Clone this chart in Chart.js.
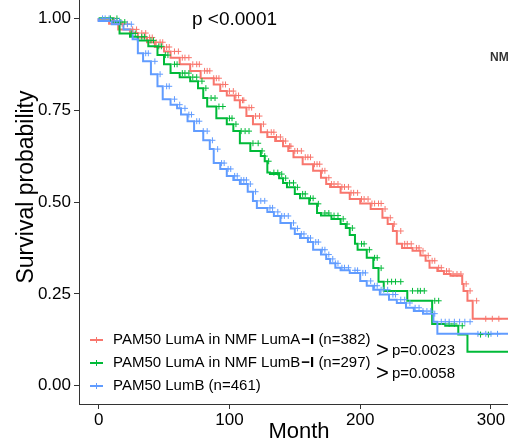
<!DOCTYPE html>
<html><head><meta charset="utf-8">
<script src="https://cdn.jsdelivr.net/npm/chart.js@4"></script>
<style>html,body{margin:0;padding:0;background:#fff;}#wrap{width:508px;height:445px;position:relative;}</style>
</head><body><div id="wrap"><canvas id="c"></canvas></div>
<script>
// ---- data ----
const seriesNames = ["PAM50 LumA in NMF LumA", "PAM50 LumA in NMF LumB", "PAM50 LumB"];
const seriesN = ["(n=382)", "(n=297)", "(n=461)"];
const seriesColors = ["#F8766D", "#00BA38", "#619CFF"];
const xTicks = [0, 100, 200, 300];
const yTicks = [0, 0.25, 0.5, 0.75, 1.0];
const pOverall = "p <0.0001";
const pPairs = ["p=0.0023", "p=0.0058"];

const redTime = [0,8,15,24,30,37,43,50,55,62,70,78,88,93,98,104,108,113,118,124,129,135,141,145,149,156,164,170,174,177,185,192,200,208,217,221,225,228,232,240,246,250,253,259,264,269,278,279,282,286,292,313];
const redSurv = [1.000,0.995,0.985,0.970,0.960,0.948,0.935,0.922,0.910,0.893,0.875,0.857,0.837,0.820,0.802,0.790,0.777,0.757,0.734,0.712,0.690,0.677,0.666,0.652,0.639,0.622,0.603,0.585,0.566,0.549,0.541,0.525,0.508,0.496,0.481,0.457,0.440,0.421,0.386,0.375,0.367,0.354,0.340,0.321,0.312,0.304,0.299,0.277,0.258,0.231,0.182,0.182];
const redCensor = [12,18,22,26,29,33,36,39,41,44,47,49,52,54,58,61,64,66,69,72,75,77,81,83,85,88,90,92,95,97,100,103,105,107,110,111,115,117,120,123,126,129,132,134,136,139,141,143,146,147,150,152,155,158,160,162,165,167,169,171,173,176,178,180,183,186,188,191,193,195,198,201,203,206,209,211,214,216,219,223,226,231,234,236,239,243,245,248,252,255,257,260,262,266,268,271,274,277,281,284,289,296,301,306];

const greenTime = [0,11,16,24,30,38,45,50,55,62,70,76,80,83,90,98,103,108,116,124,127,129,131,138,141,144,150,154,161,167,170,178,185,189,192,196,198,205,210,214,218,236,255,265,275,282,301,313];
const greenSurv = [1.000,1.000,0.990,0.959,0.950,0.940,0.924,0.900,0.875,0.851,0.840,0.829,0.810,0.783,0.760,0.728,0.712,0.693,0.660,0.639,0.625,0.611,0.580,0.576,0.565,0.552,0.540,0.522,0.510,0.495,0.470,0.463,0.454,0.440,0.429,0.410,0.386,0.370,0.348,0.320,0.283,0.258,0.231,0.168,0.163,0.139,0.092,0.092];
const greenCensor = [9,14,17,20,25,28,33,35,40,42,46,48,51,53,58,60,64,66,69,72,75,79,82,86,89,92,95,100,102,105,109,112,115,118,122,125,127,130,134,137,140,143,146,149,152,156,158,162,164,168,173,176,180,183,187,190,194,201,203,207,211,213,216,221,224,227,231,240,244,246,249,257,260,268,272,278,292,298];

const blueTime = [0,10,19,26,30,34,40,45,49,55,60,63,68,73,80,85,88,93,98,103,108,114,118,121,129,134,139,147,150,154,160,164,170,174,177,181,185,192,200,205,210,215,222,228,235,241,248,256,259,286,313];
const blueSurv = [1.000,0.993,0.984,0.970,0.943,0.905,0.883,0.848,0.815,0.780,0.765,0.755,0.738,0.720,0.693,0.668,0.644,0.606,0.590,0.571,0.560,0.549,0.528,0.503,0.484,0.473,0.462,0.443,0.428,0.413,0.402,0.391,0.370,0.357,0.345,0.333,0.321,0.314,0.307,0.285,0.272,0.261,0.248,0.234,0.225,0.212,0.203,0.196,0.174,0.141,0.141];
const blueCensor = [3,5,8,12,14,16,22,25,36,38,43,47,52,54,58,62,66,69,71,75,77,80,83,87,91,94,96,99,101,104,106,109,111,113,116,120,124,127,131,133,137,140,142,145,149,152,155,157,160,162,166,168,171,173,176,179,181,183,186,188,191,196,198,202,204,208,211,213,216,218,221,225,227,231,234,238,242,245,248,251,254,257,262,265,268,272,276,280,284,290,296,300,305];

// ---- helpers ----
function stepAt(times, surv, t){let v=surv[0];for(let i=0;i<times.length;i++){if(times[i]<=t)v=surv[i];else break;}return v;}
function linePts(times, surv){return times.map((t,i)=>({x:t,y:surv[i]}));}
function censorPts(times, surv, cens){return cens.map(t=>({x:t,y:stepAt(times,surv,t)}));}

const all = [[redTime,redSurv,redCensor],[greenTime,greenSurv,greenCensor],[blueTime,blueSurv,blueCensor]];
const datasets = [];
all.forEach((s,i)=>{
  datasets.push({type:'line',data:linePts(s[0],s[1]),stepped:'after',borderColor:seriesColors[i],borderWidth:2,pointRadius:0,fill:false,order:2-i+3});
  datasets.push({type:'scatter',data:censorPts(s[0],s[1],s[2]),pointStyle:'cross',pointRadius:3,borderColor:seriesColors[i],borderWidth:1,showLine:false,order:2-i});
});

const FONT = "'Liberation Sans', Arial, sans-serif";
const textPlugin = {
  id:'texts',
  afterDraw(chart){
    const ctx = chart.ctx;
    ctx.save();
    ctx.fillStyle = '#000';
    ctx.save();
    ctx.translate(27, 187);
    ctx.rotate(-Math.PI/2);
    ctx.font = "23px " + FONT;
    ctx.textAlign = 'center'; ctx.textBaseline = 'middle';
    ctx.fillText('Survival probability', 0, 0);
    ctx.restore();
    ctx.font = "22px " + FONT;
    ctx.textAlign = 'center'; ctx.textBaseline = 'middle';
    ctx.fillText('Month', 299, 432);
    ctx.font = "19px " + FONT;
    ctx.textAlign = 'left';
    ctx.fillText(pOverall, 192, 20);
    ctx.font = "bold 12px " + FONT;
    ctx.fillStyle = '#333';
    ctx.fillText('NM', 490, 58);
    ctx.fillStyle = '#000';
    const ys = [340, 363, 386];
    seriesNames.forEach((name,i)=>{
      const y = ys[i];
      ctx.strokeStyle = seriesColors[i];
      ctx.lineWidth = 2;
      ctx.beginPath(); ctx.moveTo(90,y); ctx.lineTo(103,y); ctx.stroke();
      ctx.lineWidth = 1;
      ctx.beginPath(); ctx.moveTo(96.5,y-3); ctx.lineTo(96.5,y+3); ctx.stroke();
      ctx.font = "15px " + FONT;
      ctx.textAlign='left'; ctx.textBaseline='middle';
      let x = 113;
      ctx.fillText(name, x, y);
      x += ctx.measureText(name).width;
      if (i < 2) {
        ctx.font = "bold 15px " + FONT;
        ctx.fillText('\u2212I', x + 1, y);
        x += ctx.measureText('\u2212I').width + 1;
        ctx.font = "15px " + FONT;
      }
      ctx.fillText(' ' + seriesN[i], x, y);
    });
    ctx.font = "22px " + FONT;
    ctx.fillText('>', 376, 351);
    ctx.fillText('>', 376, 374);
    ctx.font = "15px " + FONT;
    ctx.fillText(pPairs[0], 392, 351);
    ctx.fillText(pPairs[1], 392, 374);
    ctx.restore();
  }
};

function noPad(s){s.paddingTop=0;s.paddingBottom=0;s.paddingLeft=0;s.paddingRight=0;}

new Chart(document.getElementById('c'), {
  data:{datasets},
  options:{
    responsive:true, maintainAspectRatio:false, animation:false,
    layout:{autoPadding:false,padding:{top:0,right:0,bottom:0,left:0}},
    plugins:{legend:{display:false},tooltip:{enabled:false}},
    scales:{
      x:{type:'linear',min:-15,max:313,
        afterFit(s){s.height=41;noPad(s);},
        afterBuildTicks(s){s.ticks=xTicks.map(v=>({value:v}));},
        grid:{drawOnChartArea:false,drawTicks:true,tickLength:5,color:'#333'},
        border:{display:true,color:'#333',width:1},
        ticks:{font:{size:17,family:FONT},color:'#000',padding:1,maxRotation:0,autoSkip:false,callback:v=>String(v)}
      },
      y:{type:'linear',min:-0.05,max:1.05,
        afterFit(s){s.width=79;noPad(s);},
        afterBuildTicks(s){s.ticks=yTicks.map(v=>({value:v}));},
        grid:{drawOnChartArea:false,drawTicks:true,tickLength:5,color:'#333'},
        border:{display:true,color:'#333',width:1},
        ticks:{font:{size:17,family:FONT},color:'#000',padding:3,callback:v=>Number(v).toFixed(2)}
      }
    }
  },
  plugins:[textPlugin]
});
</script></body></html>
